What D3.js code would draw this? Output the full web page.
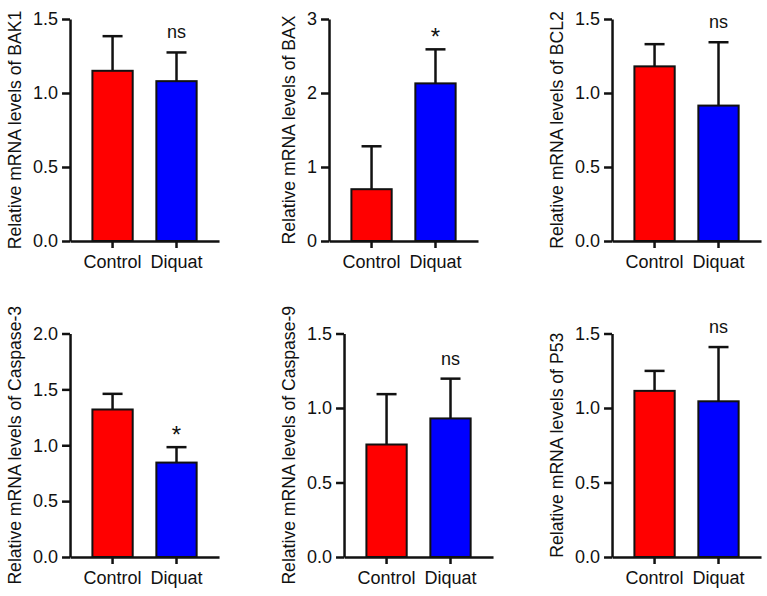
<!DOCTYPE html>
<html>
<head>
<meta charset="utf-8">
<script src="https://cdn.jsdelivr.net/npm/d3@7"></script>
<style>
  body { margin: 0; background: #fff; }
  svg text { font-family: "Liberation Sans", Arial, sans-serif; fill: #111; }
</style>
</head>
<body>
<svg id="chart" width="767" height="596"></svg>
<script>
// values (mean and upper error bar = mean + sd)
const genes = ['BAK1', 'BAX', 'BCL2', 'Caspase-3', 'Caspase-9', 'P53'];
const groups = ['Control', 'Diquat'];
const meanControl = [1.15, 0.70, 1.18, 1.32, 0.755, 1.115];
const meanDiquat = [1.08, 2.13, 0.915, 0.845, 0.93, 1.045];
const sdControl = [0.234, 0.58, 0.15, 0.14, 0.338, 0.134];
const sdDiquat = [0.194, 0.46, 0.428, 0.138, 0.267, 0.364];
const yMax = [1.5, 3, 1.5, 2, 1.5, 1.5];
const yStep = [0.5, 1, 0.5, 0.5, 0.5, 0.5];
const signif = ['ns', '*', 'ns', '*', 'ns', 'ns'];
const barColors = ['#ff0000', '#0000ff'];

const svg = d3.select('#chart');

// grid of panels: 3 columns, 2 rows
const labelX = [21, 295, 563];     // baseline of the rotated y title
const rowTop = [19, 333.5];
const rowBottom = [241, 557];
const plotW = 149;

genes.forEach((gene, i) => {
  let col = i % 3, row = Math.floor(i / 3);
  let g = svg.append('g');

  let y = d3.scaleLinear()
    .domain([0, yMax[i]])
    .range([rowBottom[row], rowTop[row]]);
  let x = d3.scaleBand()
    .domain(groups)
    .range([0, plotW])
    .paddingInner(0.37)
    .paddingOuter(0.35);

  // y axis first, so its width can be measured
  let yAxis = g.append('g')
    .call(d3.axisLeft(y)
      .tickValues(d3.range(0, yMax[i] + 1e-9, yStep[i]))
      .tickFormat(yStep[i] < 1 ? d3.format('.1f') : d3.format('d'))
      .tickSize(8)
      .tickSizeOuter(0)
      .tickPadding(4));
  yAxis.selectAll('text').style('font-size', '18px').attr('fill', '#111');
  let w = -yAxis.node().getBBox().x;
  let axisX = labelX[col] + 12 + w;
  g.attr('transform', `translate(${axisX},0)`);

  let rows = groups.map((grp, k) => ({
    grp: grp,
    mean: k === 0 ? meanControl[i] : meanDiquat[i],
    sd: k === 0 ? sdControl[i] : sdDiquat[i],
    color: barColors[k]
  }));

  // error bars (upper only)
  let eb = g.insert('g', ':first-child');
  rows.forEach(d => {
    let cx = x(d.grp) + x.bandwidth() / 2;
    eb.append('line')
      .attr('x1', cx).attr('x2', cx)
      .attr('y1', y(d.mean)).attr('y2', y(d.mean + d.sd))
      .attr('stroke', '#111').attr('stroke-width', 2.5);
    eb.append('line')
      .attr('x1', cx - 10).attr('x2', cx + 10)
      .attr('y1', y(d.mean + d.sd)).attr('y2', y(d.mean + d.sd))
      .attr('stroke', '#111').attr('stroke-width', 2.5);
  });

  // bars
  g.insert('g', 'g:nth-child(2)')
    .selectAll('rect')
    .data(rows)
    .join('rect')
    .attr('x', d => x(d.grp))
    .attr('y', d => y(d.mean))
    .attr('width', x.bandwidth())
    .attr('height', d => y(0) - y(d.mean))
    .attr('fill', d => d.color)
    .attr('stroke', '#111')
    .attr('stroke-width', 2);

  // x axis
  let xAxis = g.append('g')
    .attr('transform', `translate(0,${y(0)})`)
    .call(d3.axisBottom(x).tickSize(7).tickSizeOuter(0).tickPadding(7));
  xAxis.selectAll('text').style('font-size', '18px').attr('fill', '#111');

  [yAxis, xAxis].forEach(a => {
    a.select('.domain').attr('stroke', '#111').attr('stroke-width', 2.5);
    a.selectAll('.tick line').attr('stroke', '#111').attr('stroke-width', 2.5);
  });
  yAxis.raise();

  // y title
  let midY = (rowTop[row] + rowBottom[row]) / 2;
  g.append('text')
    .attr('transform', `translate(${labelX[col] - axisX},${midY}) rotate(-90)`)
    .attr('text-anchor', 'middle')
    .style('font-size', '17.6px')
    .text('Relative mRNA levels of ' + gene);

  // significance mark above the Diquat bar
  let dq = rows[1];
  let top = y(dq.mean + dq.sd);
  g.append('text')
    .attr('x', x(dq.grp) + x.bandwidth() / 2)
    .attr('y', signif[i] === '*' ? top - 4 : top - 14)
    .attr('text-anchor', 'middle')
    .style('font-size', signif[i] === '*' ? '24px' : '18px')
    .text(signif[i]);
});
</script>
</body>
</html>
